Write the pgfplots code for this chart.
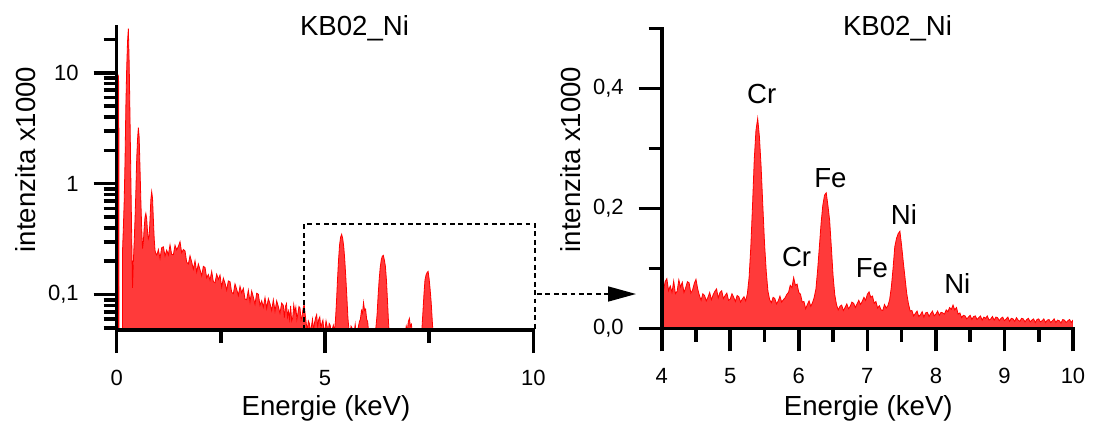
\documentclass[border=0pt]{standalone}
\usepackage{fontspec}
\setmainfont{Liberation Sans}
\usepackage{pgfplots}
\pgfplotsset{compat=1.18}
\usepackage{pgfplotstable}
\usetikzlibrary{arrows.meta}
\definecolor{fillred}{RGB}{255,58,58}
\newcommand\lab{\fontsize{13.8}{16}\selectfont}
\newcommand\tkl{\fontsize{11}{13}\selectfont}

\pgfplotstableread{
x y
0.000 0.001
0.030 0.001
0.032 9.0
0.045 9.3
0.052 3.0
0.060 0.001
0.130 0.001
0.140 0.25
0.160 0.40
0.180 0.70
0.200 1.6
0.220 5.0
0.240 11
0.260 19
0.280 25
0.300 12
0.320 3.8
0.340 1.1
0.360 0.34
0.380 0.115
0.400 0.20
0.420 0.30
0.440 0.48
0.460 0.85
0.480 1.66
0.500 2.5
0.520 3.2
0.540 2.6
0.560 1.35
0.580 0.70
0.600 0.40
0.620 0.26
0.640 0.30
0.660 0.40
0.680 0.50
0.700 0.54
0.720 0.48
0.740 0.37
0.760 0.32
0.780 0.34
0.800 0.48
0.820 0.72
0.840 0.85
0.860 0.74
0.880 0.48
0.900 0.32
0.920 0.25
0.940 0.235
0.960 0.228
0.980 0.238
1.00 0.255
1.04 0.212
1.08 0.265
1.12 0.270
1.16 0.223
1.20 0.252
1.24 0.228
1.28 0.281
1.32 0.230
1.36 0.229
1.40 0.279
1.44 0.253
1.48 0.272
1.52 0.300
1.56 0.239
1.60 0.255
1.64 0.248
1.68 0.196
1.72 0.189
1.76 0.224
1.80 0.197
1.84 0.170
1.88 0.202
1.92 0.160
1.96 0.189
2.00 0.168
2.04 0.148
2.08 0.180
2.12 0.176
2.16 0.142
2.20 0.152
2.24 0.135
2.28 0.162
2.32 0.131
2.36 0.128
2.40 0.153
2.44 0.137
2.48 0.150
2.52 0.117
2.56 0.141
2.60 0.127
2.64 0.110
2.68 0.133
2.72 0.131
2.76 0.105
2.80 0.102
2.84 0.125
2.88 0.112
2.92 0.098
2.96 0.119
3.00 0.104
3.04 0.114
3.08 0.091
3.12 0.090
3.16 0.110
3.20 0.086
3.24 0.108
3.28 0.095
3.32 0.082
3.36 0.103
3.40 0.101
3.44 0.080
3.48 0.088
3.52 0.077
3.56 0.094
3.60 0.075
3.64 0.092
3.68 0.083
3.72 0.072
3.76 0.090
3.80 0.071
3.84 0.088
3.88 0.078
3.92 0.068
3.96 0.084
4.000 0.080
4.025 0.062
4.050 0.078
4.075 0.083
4.100 0.063
4.125 0.071
4.150 0.060
4.175 0.079
4.200 0.058
4.225 0.062
4.250 0.081
4.275 0.069
4.300 0.077
4.325 0.060
4.350 0.068
4.375 0.078
4.400 0.076
4.425 0.059
4.450 0.064
4.475 0.075
4.500 0.082
4.525 0.066
4.550 0.055
4.575 0.047
4.600 0.058
4.625 0.055
4.650 0.046
4.675 0.052
4.700 0.060
4.725 0.048
4.750 0.056
4.775 0.062
4.800 0.066
4.825 0.051
4.850 0.060
4.875 0.063
4.900 0.050
4.925 0.055
4.950 0.059
4.975 0.047
5.000 0.049
5.025 0.058
5.050 0.052
5.075 0.045
5.100 0.055
5.125 0.053
5.150 0.044
5.175 0.049
5.200 0.053
5.225 0.046
5.250 0.058
5.275 0.085
5.300 0.136
5.325 0.205
5.350 0.281
5.375 0.330
5.400 0.350
5.425 0.320
5.450 0.270
5.475 0.205
5.500 0.142
5.525 0.095
5.550 0.062
5.575 0.048
5.600 0.043
5.625 0.052
5.650 0.050
5.675 0.041
5.700 0.046
5.725 0.054
5.750 0.044
5.775 0.048
5.800 0.051
5.825 0.057
5.850 0.060
5.875 0.072
5.900 0.068
5.925 0.085
5.950 0.072
5.975 0.074
6.000 0.060
6.025 0.057
6.050 0.044
6.075 0.045
6.100 0.033
6.125 0.040
6.150 0.046
6.175 0.037
6.200 0.043
6.225 0.052
6.250 0.066
6.275 0.098
6.300 0.136
6.325 0.175
6.350 0.205
6.375 0.222
6.400 0.226
6.425 0.205
6.450 0.180
6.475 0.135
6.500 0.088
6.525 0.056
6.550 0.040
6.575 0.031
6.600 0.037
6.625 0.039
6.650 0.030
6.675 0.035
6.700 0.041
6.725 0.033
6.750 0.037
6.775 0.044
6.800 0.042
6.825 0.035
6.850 0.041
6.875 0.047
6.900 0.040
6.925 0.045
6.950 0.052
6.975 0.047
7.000 0.057
7.025 0.061
7.050 0.052
7.075 0.054
7.100 0.042
7.125 0.045
7.150 0.034
7.175 0.038
7.200 0.031
7.225 0.030
7.250 0.040
7.275 0.034
7.300 0.038
7.325 0.048
7.350 0.069
7.375 0.100
7.400 0.136
7.425 0.150
7.450 0.158
7.475 0.162
7.500 0.138
7.525 0.110
7.550 0.084
7.575 0.058
7.600 0.041
7.625 0.029
7.650 0.030
7.675 0.021
7.700 0.025
7.725 0.029
7.750 0.020
7.775 0.023
7.800 0.028
7.825 0.019
7.850 0.026
7.875 0.027
7.900 0.020
7.925 0.025
7.950 0.029
7.975 0.021
8.000 0.024
8.025 0.029
8.050 0.022
8.075 0.027
8.100 0.026
8.125 0.024
8.150 0.031
8.175 0.028
8.200 0.035
8.225 0.032
8.250 0.039
8.275 0.031
8.300 0.035
8.325 0.024
8.350 0.026
8.375 0.018
8.400 0.022
8.425 0.021
8.450 0.016
8.475 0.019
8.500 0.022
8.525 0.015
8.550 0.020
8.575 0.021
8.600 0.015
8.625 0.018
8.650 0.021
8.675 0.014
8.700 0.019
8.725 0.017
8.750 0.021
8.775 0.014
8.800 0.016
8.825 0.020
8.850 0.014
8.875 0.019
8.900 0.018
8.925 0.013
8.950 0.017
8.975 0.019
9.000 0.013
9.025 0.016
9.050 0.019
9.075 0.012
9.100 0.017
9.125 0.016
9.150 0.012
9.175 0.018
9.200 0.014
9.225 0.012
9.250 0.017
9.275 0.016
9.300 0.011
9.325 0.015
9.350 0.017
9.375 0.011
9.400 0.014
9.425 0.016
9.450 0.010
9.475 0.015
9.500 0.016
9.525 0.011
9.550 0.013
9.575 0.016
9.600 0.010
9.625 0.014
9.650 0.015
9.675 0.010
9.700 0.013
9.725 0.016
9.750 0.010
9.775 0.014
9.800 0.013
9.825 0.009
9.850 0.015
9.875 0.014
9.900 0.010
9.925 0.013
9.950 0.015
9.975 0.010
10.000 0.014
10.000 0.001
}\spec

\pgfplotsset{
  spax/.style={
    scale only axis,
    axis lines*=left,
    axis line style={line width=1.8pt,-,line cap=rect},
    xtick pos=left, ytick pos=left,
    tick align=outside,
    major tick length=11.5pt,
    minor tick length=6.5pt,
    tick style={line width=1.8pt, black},
    axis on top,
    ticklabel style={font=\tkl},
    xticklabel style={yshift=-5pt},
    yticklabel style={xshift=-4pt},
  }
}

\begin{document}
\begin{tikzpicture}
\begin{axis}[spax,
  at={(58.35pt,-165pt)}, anchor=south west,
  width=208.3pt, height=151.65pt,
  ymode=log, xmin=0, xmax=10, ymin=0.048, ymax=26,
  xtick={0,5,10}, xticklabels={0,5,10}, minor xtick={2.5,7.5},
  ytick={0.1,1,10}, yticklabels={{0,1},1,10},
  minor ytick={0.05,0.06,0.07,0.08,0.09,0.2,0.3,0.4,0.5,0.6,0.7,0.8,0.9,2,3,4,5,6,7,8,9,20},
]
\addplot[draw=red, line width=0.4pt, fill=fillred] table[x=x,y=y] {\spec};
\end{axis}

\begin{axis}[spax,
  at={(330.85pt,-164.25pt)}, anchor=south west,
  width=205.65pt, height=150.1pt,
  xmin=4, xmax=10, ymin=0, ymax=0.5,
  xtick={4,5,6,7,8,9,10}, xticklabels={4,5,6,7,8,9,10},
  minor xtick={4.5,5.5,6.5,7.5,8.5,9.5},
  ytick={0,0.2,0.4}, yticklabels={{0,0},{0,2},{0,4}},
  minor ytick={0.1,0.3,0.5},
]
\addplot[draw=red, line width=0.4pt, fill=fillred] table[x=x,y=y] {\spec};
\node[anchor=base, font=\lab] at (axis cs:5.458,0.375) {Cr};
\node[anchor=base, font=\lab] at (axis cs:5.968,0.103) {Cr};
\node[anchor=base, font=\lab] at (axis cs:6.461,0.235) {Fe};
\node[anchor=base, font=\lab] at (axis cs:7.066,0.0853) {Fe};
\node[anchor=base, font=\lab] at (axis cs:7.535,0.174) {Ni};
\node[anchor=base, font=\lab] at (axis cs:8.312,0.0587) {Ni};
\end{axis}

\begin{scope}[x=0.5pt,y=-0.5pt]
\node[anchor=base, font=\lab] at (354.5,35.5) {KB02\_Ni};
\node[anchor=base, font=\lab] at (897.5,35) {KB02\_Ni};
\node[anchor=base, font=\lab] at (326,415) {Energie (keV)};
\node[anchor=base, font=\lab] at (868.3,415) {Energie (keV)};
\node[anchor=base, rotate=90, font=\lab] at (35,159.5) {intenzita x1000};
\node[anchor=base, rotate=90, font=\lab] at (580,159.5) {intenzita x1000};
\draw[line width=0.8pt, dash pattern=on 2.4pt off 1.8pt] (304,330) -- (304,224) -- (535,224) -- (535,330);
\draw[line width=0.8pt, dash pattern=on 2.4pt off 1.8pt, -{Triangle[length=14pt,width=7.5pt]}] (537,294) -- (636,294);
\pgfresetboundingbox
\path (0,0) rectangle (1094,430);
\end{scope}
\end{tikzpicture}
\end{document}
